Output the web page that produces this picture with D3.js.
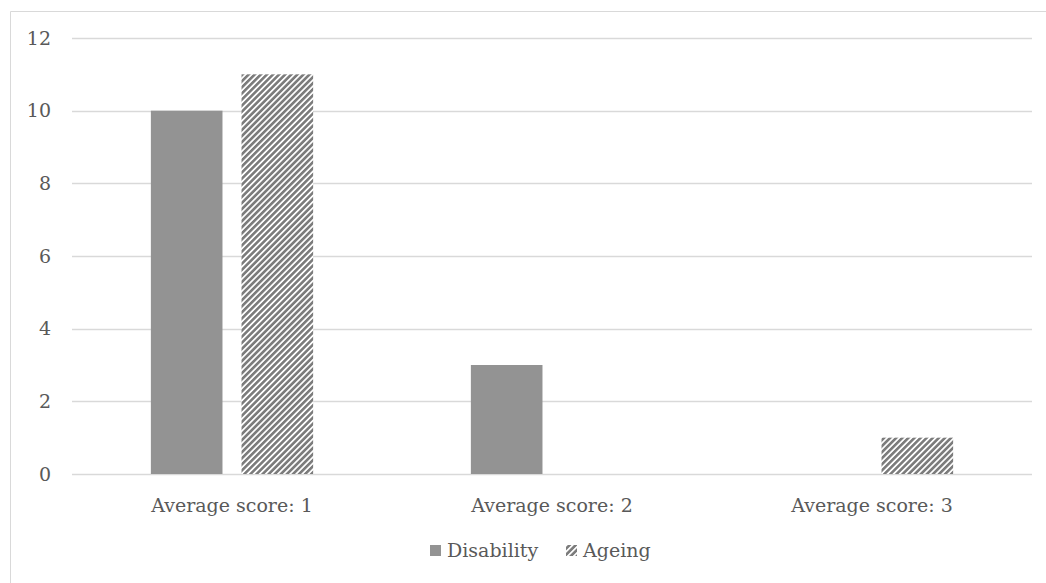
<!DOCTYPE html>
<html>
<head>
<meta charset="utf-8">
<script src="https://cdn.jsdelivr.net/npm/d3@7"></script>
<style>
  body { margin: 0; background: #fff; }
  text { font-family: "DejaVu Serif", "Liberation Serif", serif; fill: #595959; }
</style>
</head>
<body>
<svg id="chart" width="1046" height="583"></svg>
<script>
const categories = ['Average score: 1', 'Average score: 2', 'Average score: 3'];
const series = ['Disability', 'Ageing'];
const disability = [10, 3, 0];
const ageing = [11, 0, 1];
const yTicks = [0, 2, 4, 6, 8, 10, 12];

const svg = d3.select('#chart');
const margin = {left: 72, right: 14, top: 38, bottom: 109};
const W = 1046, H = 583;

// chart frame (only top and left edges are visible in the picture)
svg.append('path')
  .attr('d', `M10.5,${H}V11.5H${W}`)
  .attr('fill', 'none').attr('stroke', '#d9d9d9');

// hatch pattern for Ageing
const defs = svg.append('defs');
const pat = defs.append('pattern')
  .attr('id', 'hatch')
  .attr('patternUnits', 'userSpaceOnUse')
  .attr('width', 4.3).attr('height', 4.3)
  .attr('patternTransform', 'rotate(45)');
pat.append('rect').attr('width', 4.3).attr('height', 4.3).attr('fill', '#fff');
pat.append('rect').attr('width', 2.6).attr('height', 4.3).attr('fill', '#7c7c7c');

const x = d3.scaleBand()
  .domain(categories)
  .range([margin.left, W - margin.right]);
const xs = d3.scaleBand()
  .domain(series)
  .range([0, x.bandwidth()])
  .paddingInner(0.21)
  .paddingOuter(0.87);
const y = d3.scaleLinear()
  .domain([0, 12])
  .range([H - margin.bottom, margin.top]);

// gridlines
svg.append('g').selectAll('line').data(yTicks).enter()
  .append('line')
  .attr('x1', margin.left).attr('x2', W - margin.right)
  .attr('y1', (d) => Math.round(y(d)) + 0.5)
  .attr('y2', (d) => Math.round(y(d)) + 0.5)
  .attr('stroke', '#d9d9d9').attr('stroke-width', 1.3);

// y tick labels
svg.append('g').selectAll('text').data(yTicks).enter()
  .append('text')
  .attr('x', 51)
  .attr('y', (d) => y(d))
  .attr('dy', '0.35em')
  .attr('text-anchor', 'end')
  .attr('font-size', 19)
  .text((d) => d);

// bars
const rows = categories.map((c, i) => ({cat: c, Disability: disability[i], Ageing: ageing[i]}));
const groups = svg.append('g').selectAll('g').data(rows).enter()
  .append('g')
  .attr('transform', (d) => `translate(${x(d.cat)},0)`);
groups.selectAll('rect')
  .data((d) => series.map((s) => ({s, v: d[s]})).filter((e) => e.v > 0))
  .enter()
  .append('rect')
  .attr('x', (d) => xs(d.s))
  .attr('width', xs.bandwidth())
  .attr('y', (d) => y(d.v))
  .attr('height', (d) => y(0) - y(d.v))
  .attr('fill', (d) => d.s === 'Disability' ? '#939393' : 'url(#hatch)');

// category labels
svg.append('g').selectAll('text').data(categories).enter()
  .append('text')
  .attr('x', (d) => x(d) + x.bandwidth() / 2)
  .attr('y', 512)
  .attr('text-anchor', 'middle')
  .attr('font-size', 19)
  .text((d) => d);

// legend
const legend = svg.append('g');
legend.append('rect')
  .attr('x', 430).attr('y', 545).attr('width', 11).attr('height', 11)
  .attr('fill', '#939393');
legend.append('text')
  .attr('x', 447).attr('y', 557).attr('font-size', 19)
  .text(series[0]);
legend.append('rect')
  .attr('x', 566).attr('y', 545).attr('width', 11).attr('height', 11)
  .attr('fill', 'url(#hatch)');
legend.append('text')
  .attr('x', 583).attr('y', 557).attr('font-size', 19)
  .text(series[1]);
</script>
</body>
</html>
